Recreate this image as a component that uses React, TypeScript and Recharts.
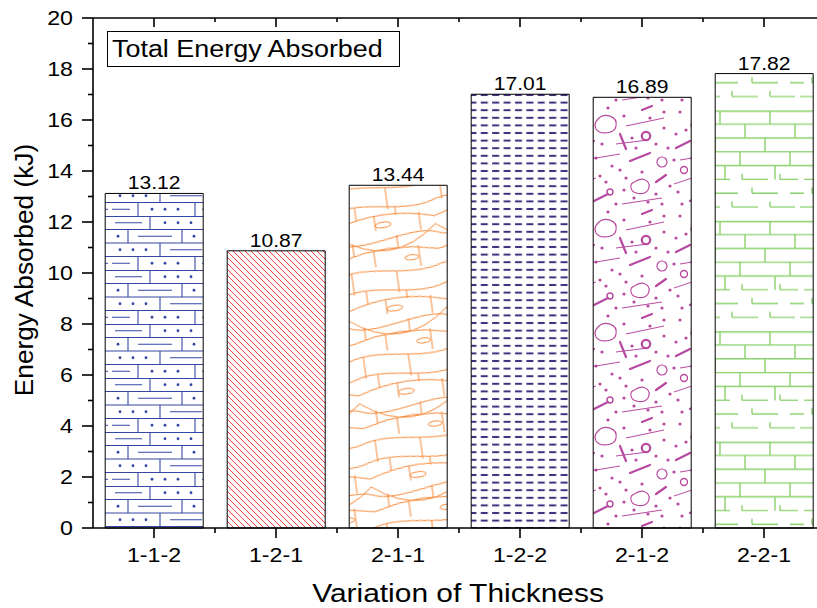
import { BarChart, Bar, XAxis, YAxis, Cell, LabelList, Legend } from 'recharts';

const categories = ['1-1-2', '1-2-1', '2-1-1', '1-2-2', '2-1-2', '2-2-1'];
const energyAbsorbed = [13.12, 10.87, 13.44, 17.01, 16.89, 17.82];
const yTicks = [0, 1, 2, 3, 4, 5, 6, 7, 8, 9, 10, 11, 12, 13, 14, 15, 16, 17, 18, 19, 20];
const seriesName = 'Total Energy Absorbed';

const chartData = categories.map((name, i) => ({ name, energy: energyAbsorbed[i] }));

// fill pattern per bar, same order as categories
const barFills = ['brickDots', 'hatch', 'curvedBrick', 'dashes', 'speckle', 'greenBrick'];

const FONT = '"Liberation Sans", Arial, Helvetica, sans-serif';
const STRETCH = 1.16; // the exported text is a bit wider than plain Arial

const BLUE = '#3547a4';
const RED = '#ee2b2b';
const ORANGE = '#f68a3a';
const PURPLE = '#3f2d7d';
const MAGENTA = '#b8499f';
const GREEN = '#8ad16b';

const CHART_W = 830;
const CHART_H = 608;
const LEFT_AXIS_W = 93;
const RIGHT_AXIS_W = 5;
const PLOT_W = CHART_W - LEFT_AXIS_W - RIGHT_AXIS_W;

const StretchText = ({ x, y, size, anchor = 'middle', sx = STRETCH, children }: any) => (
  <text
    transform={`translate(${x},${y}) scale(${sx},1)`}
    textAnchor={anchor}
    fontSize={size}
    fontFamily={FONT}
    fill="#000"
  >
    {children}
  </text>
);

const YTickLeft = ({ x, y, payload }: any) => {
  const major = payload.value % 2 === 0;
  return (
    <g>
      <line x1={x} x2={x - (major ? 11 : 5)} y1={y} y2={y} stroke="#000" strokeWidth={1.6} />
      {major && (
        <StretchText x={x - 20} y={y + 7} size={20} anchor="end">
          {payload.value}
        </StretchText>
      )}
    </g>
  );
};

const YTickRight = ({ x, y, payload }: any) => {
  const major = payload.value % 2 === 0;
  return <line x1={x} x2={x - (major ? 9 : 4)} y1={y} y2={y} stroke="#000" strokeWidth={1.6} />;
};

const halfBand = (payload: any) => (payload && payload.offset > 0 ? payload.offset : PLOT_W / categories.length / 2);

const XTickBottom = ({ x, y, payload }: any) => {
  const h = halfBand(payload);
  return (
    <g>
      <line x1={x} x2={x} y1={y} y2={y + 10} stroke="#000" strokeWidth={1.6} />
      <line x1={x + h} x2={x + h} y1={y} y2={y + 5} stroke="#000" strokeWidth={1.6} />
      <StretchText x={x} y={y + 34} size={20}>
        {payload.value}
      </StretchText>
    </g>
  );
};

const XTickTop = ({ x, y, payload }: any) => {
  const h = halfBand(payload);
  return (
    <g>
      <line x1={x} x2={x} y1={y} y2={y + 9} stroke="#000" strokeWidth={1.6} />
      <line x1={x + h} x2={x + h} y1={y} y2={y + 4} stroke="#000" strokeWidth={1.6} />
    </g>
  );
};

const ValueLabel = ({ x, y, width, value }: any) => (
  <StretchText x={x + width / 2} y={y - 4} size={19} sx={1.11}>
    {Number(value).toFixed(2)}
  </StretchText>
);

const XTitle = ({ viewBox }: any) => (
  <StretchText x={viewBox.x + viewBox.width / 2 - 1} y={viewBox.y + 74} size={26.5} sx={1.13}>
    Variation of Thickness
  </StretchText>
);

const YTitle = ({ viewBox }: any) => (
  <text
    transform={`translate(${viewBox.x + 33},${viewBox.y + viewBox.height / 2 - 3}) rotate(-90) scale(1.05,1)`}
    textAnchor="middle"
    fontSize={25}
    fontFamily={FONT}
    fill="#000"
  >
    Energy Absorbed (kJ)
  </text>
);

const TitleBox = ({ payload }: any) => (
  <div
    style={{
      border: '1px solid #000',
      width: 287,
      height: 34,
      lineHeight: '34px',
      paddingLeft: 4,
      boxSizing: 'content-box',
      fontFamily: FONT,
      fontSize: 23,
      color: '#000',
      background: '#fff',
      whiteSpace: 'nowrap',
    }}
  >
    <span style={{ display: 'inline-block', transform: 'scaleX(1.17)', transformOrigin: 'left center' }}>
      {payload && payload[0] ? payload[0].value : seriesName}
    </span>
  </div>
);

const dot = (cx: number, cy: number, r: number, key: number) => <circle key={key} cx={cx} cy={cy} r={r} />;

const Patterns = () => (
  <svg width={0} height={0} style={{ position: 'absolute' }}>
    <defs>
      <pattern id="brickDots" width={110} height={54} patternUnits="userSpaceOnUse">
        <g stroke={BLUE} strokeWidth={1.1} fill="none">
          <path d="M0,0.5H110M0,13.5H110M0,27H110M0,40.5H110" />
          <path d="M40,0V13.5M95,0V13.5M18,13.5V27M72,13.5V27M50,27V40.5M100,27V40.5M28,40.5V54M85,40.5V54" />
          <path d="M5,6.75H32M28,20.25H62M60,33.75H92M92,47.25H108M2,47.25H20" />
        </g>
        <g fill={BLUE}>
          {[
            [55, 6.75], [68, 6.75], [81, 6.75], [103, 6.75], [8, 20.25], [84, 20.25], [97, 20.25],
            [10, 33.75], [23, 33.75], [36, 33.75], [42, 47.25], [55, 47.25], [68, 47.25],
          ].map(([cx, cy], i) => dot(cx, cy, 1.4, i))}
        </g>
      </pattern>

      <pattern id="hatch" width={6} height={6} patternUnits="userSpaceOnUse">
        <path d="M-1,-1L7,7M-1,5L1,7M5,-1L7,1" stroke={RED} strokeWidth={0.9} />
      </pattern>

      <pattern id="curvedBrick" width={100} height={84} patternUnits="userSpaceOnUse" patternTransform="rotate(-8)">
        <g stroke={ORANGE} strokeWidth={1} fill="none">
          <path d="M0,6C30,-4 70,16 100,6" />
          <path d="M0,22Q50,6 100,22" />
          <path d="M0,38C25,50 75,28 100,38" />
          <path d="M0,55Q50,41 100,55" />
          <path d="M0,70C30,62 70,80 100,70" />
          <path d="M0,30Q50,70 100,30" />
          <path d="M22,4V17M62,8V16M40,14V29M85,16V34M15,39V52M60,36V48M35,49V65M80,49V70M10,68V84M55,71V84M10,0V6M55,0V9" />
          <ellipse cx={48} cy={24} rx={8} ry={2.8} />
          <ellipse cx={72} cy={60} rx={7} ry={2.5} />
        </g>
      </pattern>

      <pattern id="dashes" width={11.4} height={7.6} patternUnits="userSpaceOnUse">
        <rect x={2} y={2.8} width={7} height={2} fill={PURPLE} />
      </pattern>

      <pattern id="speckle" width={96} height={104} patternUnits="userSpaceOnUse">
        <g stroke={MAGENTA} fill="none">
          <path d="M22,15C28,8 42,12 40,22C39,30 24,31 20,25C18,21 19,18 22,15Z" strokeWidth={1.2} />
          <path d="M60,77C68,72 76,78 72,86C68,92 56,90 55,84C54,80 56,79 60,77Z" strokeWidth={1.2} />
          <circle cx={70} cy={32} r={4.2} strokeWidth={2.2} />
          <circle cx={12} cy={66} r={3.5} strokeWidth={1.4} />
          <circle cx={86} cy={58} r={5} strokeWidth={1.2} />
          <circle cx={34} cy={88} r={3} strokeWidth={1.4} />
          <path d="M4,44L18,37M54,57L74,49M18,97L32,90M80,78L90,71M66,6L76,2M44,30L50,45" strokeWidth={2.2} strokeLinecap="round" />
          <path d="M8,56L44,50M46,100L86,94M40,40L72,36M50,22L88,14M2,80L20,74" strokeWidth={1} />
        </g>
        <g fill={MAGENTA}>
          {[
            [48, 12], [88, 24], [8, 8], [56, 34], [26, 40], [92, 44], [44, 66], [80, 90], [30, 78],
            [6, 88], [66, 68], [86, 100], [20, 54], [60, 44], [40, 100], [94, 82], [74, 14], [4, 30],
            [36, 62], [50, 74], [24, 72], [14, 26], [80, 40], [58, 94], [72, 98], [88, 8], [32, 4],
            [10, 100], [48, 86], [2, 56],
          ].map(([cx, cy], i) => dot(cx, cy, 1.6, i))}
        </g>
      </pattern>

      <pattern id="greenBrick" width={100} height={110.4} patternUnits="userSpaceOnUse">
        <g stroke={GREEN} strokeWidth={1.4} fill="none">
          <path d="M0,0.7H100M0,13.8H100M0,27.6H100M0,41.4H100M0,55.2H100" />
          <path d="M20,0V13.8M70,0V13.8M45,13.8V27.6M95,13.8V27.6M15,27.6V41.4M65,27.6V41.4M40,41.4V55.2M90,41.4V55.2M25,55.2V69M75,55.2V69" />
          <path d="M4,69H30M42,69H68M80,69H98M0,82.8H4M12,82.8H38M52,82.8H78M90,82.8H100M0,96.6H20M32,96.6H58M70,96.6H95" />
          <path d="M42,69V63.3M80,69V63.3M12,82.8V77.1M52,82.8V77.1M32,96.6V90.9M70,96.6V90.9" />
        </g>
      </pattern>
    </defs>
  </svg>
);

export default function App() {
  return (
    <div
      style={{
        position: 'absolute',
        left: 0,
        top: 0,
        width: 817,
        height: 608,
        overflow: 'hidden',
        background: '#fff',
      }}
    >
      <Patterns />
      <BarChart
        width={CHART_W}
        height={CHART_H}
        data={chartData}
        margin={{ top: 0, right: 0, bottom: 0, left: 0 }}
        barCategoryGap="10%"
      >
        <XAxis
          dataKey="name"
          height={80}
          interval={0}
          tickSize={0}
          tickMargin={0}
          tickLine={false}
          axisLine={{ stroke: '#000', strokeWidth: 1.6 }}
          tick={XTickBottom}
          label={{ content: XTitle }}
        />
        <XAxis
          xAxisId="top"
          dataKey="name"
          orientation="top"
          height={18}
          interval={0}
          tickSize={0}
          tickMargin={0}
          tickLine={false}
          axisLine={{ stroke: '#000', strokeWidth: 1.6 }}
          tick={XTickTop}
        />
        <YAxis
          type="number"
          domain={[0, 20]}
          ticks={yTicks}
          interval={0}
          width={LEFT_AXIS_W}
          tickSize={0}
          tickMargin={0}
          tickLine={false}
          axisLine={{ stroke: '#000', strokeWidth: 1.6 }}
          tick={YTickLeft}
          label={{ content: YTitle }}
        />
        <YAxis
          yAxisId="right"
          orientation="right"
          type="number"
          domain={[0, 20]}
          ticks={yTicks}
          interval={0}
          width={RIGHT_AXIS_W}
          tickSize={0}
          tickMargin={0}
          tickLine={false}
          axisLine={{ stroke: '#000', strokeWidth: 1.6 }}
          tick={YTickRight}
        />
        <Legend
          verticalAlign="middle"
          align="center"
          layout="horizontal"
          wrapperStyle={{ top: 31, left: 107, width: 'auto', height: 'auto' }}
          content={TitleBox}
        />
        <Bar dataKey="energy" name={seriesName} stroke="#000" strokeWidth={1} isAnimationActive={false}>
          {chartData.map((entry, i) => (
            <Cell key={entry.name} fill={`url(#${barFills[i]})`} />
          ))}
          <LabelList dataKey="energy" content={ValueLabel} />
        </Bar>
      </BarChart>
    </div>
  );
}
